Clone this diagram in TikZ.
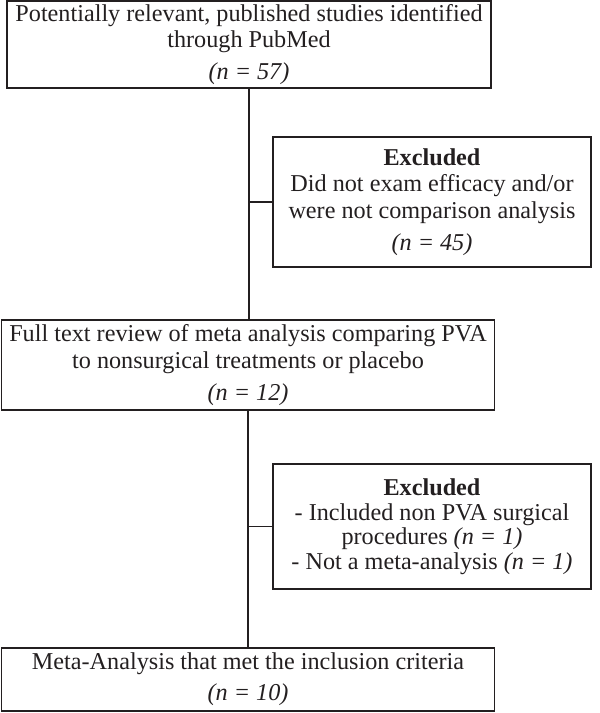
\documentclass[tikz,border=0pt]{standalone}
\usepackage{fontspec}
\setmainfont{Liberation Serif}
\usepackage{tikz}
\usetikzlibrary{positioning,calc}
\definecolor{ink}{RGB}{35,31,32}

\begin{document}
\begin{tikzpicture}[x=1pt,y=-1pt,
    mainbox/.style={draw=ink,line width=1.4pt,text=ink,align=center,inner sep=0pt,font=\fontsize{24.2}{26.5}\selectfont},
    link/.style={draw=ink,line width=1.2pt}]
    \useasboundingbox (0,0) rectangle (600,713);

    % Identified studies
    \node[mainbox,minimum width=484pt,minimum height=87pt] (found) at (249,44.5)
        {Potentially relevant, published studies identified\\through PubMed\\[5.5pt]\textit{(n = 57)}};

    % First exclusion
    \node[mainbox,minimum width=318pt,minimum height=130pt] (excl1) at (432,202)
        {\textbf{Excluded}\\Did not exam efficacy and/or\\were not comparison analysis\\[6pt]\textit{(n = 45)}};

    % Full text review
    \node[mainbox,minimum width=493pt,minimum height=90pt] (review) at (248,365)
        {Full text review of meta analysis comparing PVA\\to nonsurgical treatments or placebo\\[5.5pt]\textit{(n = 12)}};

    % Second exclusion
    \node[mainbox,minimum width=318pt,minimum height=125pt,font=\fontsize{24.2}{24.5}\selectfont] (excl2) at (432,526.5)
        {\textbf{Excluded}\\- Included non PVA surgical\\procedures \textit{(n = 1)}\\- Not a meta-analysis \textit{(n = 1)}};

    % Included
    \node[mainbox,minimum width=493pt,minimum height=63pt] (incl) at (248,679.5)
        {Meta-Analysis that met the inclusion criteria\\[4.5pt]\textit{(n = 10)}};

    % Connectors
    \draw[link] (found.south) -- (found.south |- review.north);
    \draw[link] (found.south |- excl1.west) -- (excl1.west);
    \draw[link] (review.south) -- (review.south |- incl.north);
    \draw[link] (review.south |- excl2.west) -- (excl2.west);
\end{tikzpicture}
\end{document}
